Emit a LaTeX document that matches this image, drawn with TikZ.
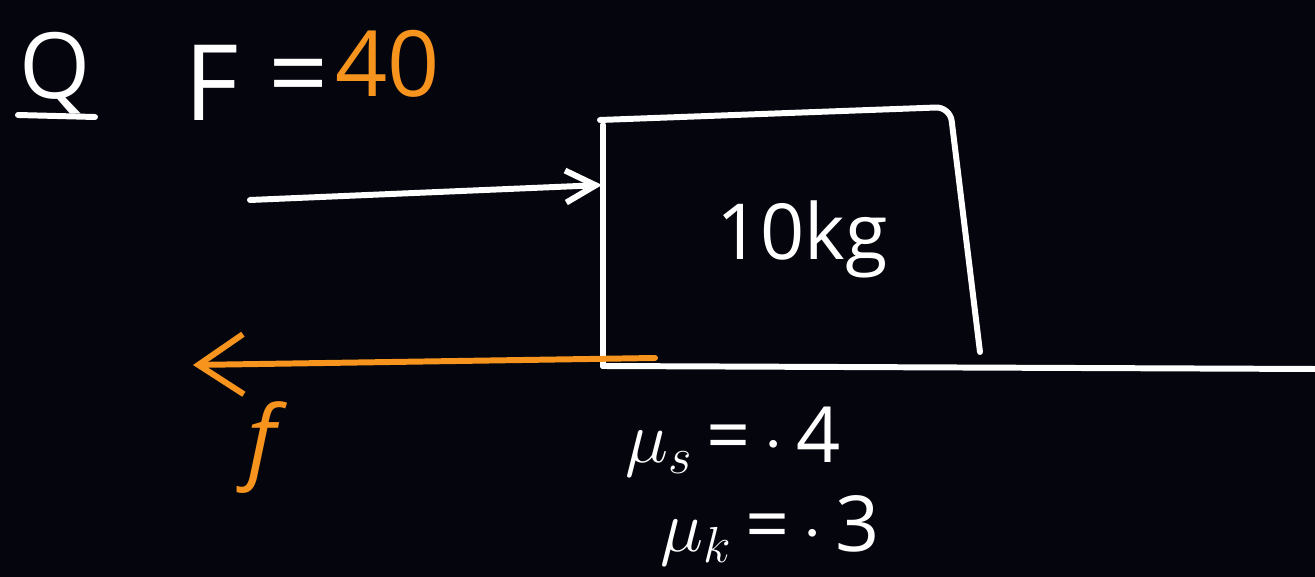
\documentclass[tikz,border=0pt]{standalone}
\usepackage{fontspec}
\setmainfont{Open Sans}
\usepackage{tikz}
\usetikzlibrary{arrows.meta, positioning, calc}
\definecolor{board}{HTML}{05050E}
\definecolor{chalkorange}{HTML}{F7941D}
\tikzset{
  chalk/.style={
    draw=white,
    line width=1.7pt,
    line cap=round,
    line join=round
  },
  forcearrow/.style={
    chalk,
    -{Straight Barb[length=3mm, width=3.2mm, line width=1.7pt]}
  },
  frictionarrow/.style={
    chalk,
    draw=chalkorange,
    -{Straight Barb[length=4.5mm, width=6mm, line width=1.7pt]}
  },
  handtext/.style={
    text=white,
    inner sep=0pt,
    anchor=base
  }
}

\begin{document}
\begin{tikzpicture}

  % BOARD
  \fill[board] (0,0) rectangle (13.15,5.77);
  \useasboundingbox (0,0) rectangle (13.15,5.77);

  % HEADER
  \node (Q_label) [handtext, font=\fontsize{26}{26}\selectfont] at (0.55,4.78) {Q};
  \coordinate (Q_ul_a) at (0.18,4.62);
  \coordinate (Q_ul_b) at (0.95,4.60);
  \draw[chalk] (Q_ul_a) -- (Q_ul_b);
  \node (F_label) [handtext, font=\fontsize{30}{30}\selectfont] at (2.12,4.56) {F};
  \node (F_eq) [handtext, font=\fontsize{30}{30}\selectfont, anchor=base west] at (2.68,4.66) {=};
  \node (F_val) [handtext, text=chalkorange, font=\fontsize{26}{26}\selectfont, anchor=base west] at (3.35,4.80) {40};

  % BLOCK
  \coordinate (B_tl) at (6.00,4.57);
  \coordinate (B_tr) at (9.50,4.70);
  \coordinate (B_br) at (9.80,2.25);
  \coordinate (B_lt) at (6.03,4.52);
  \coordinate (B_lb) at (6.03,2.11);
  \draw[chalk, rounded corners=4pt] (B_tl) -- (B_tr) -- (B_br);
  \draw[chalk] (B_lt) -- (B_lb);
  \node (M_label) [handtext, font=\fontsize{22}{22}\selectfont] at (8.02,3.17) {10kg};

  % GROUND
  \coordinate (G_end) at (13.15,2.08);
  \draw[chalk] (B_lb) -- (G_end);

  % APPLIED FORCE
  \coordinate (A_tail) at (2.50,3.77);
  \coordinate (A_head) at (6.02,3.92);
  \draw[forcearrow] (A_tail) -- (A_head);

  % FRICTION
  \coordinate (R_tail) at (6.55,2.19);
  \coordinate (R_head) at (1.93,2.12);
  \draw[frictionarrow] (R_tail) -- (R_head);
  \node (R_label) [handtext, text=chalkorange, font=\fontsize{26}{26}\selectfont\itshape] at (2.62,1.05) {f};

  % COEFFICIENTS
  \node (mu_s) [handtext, font=\fontsize{22}{22}\selectfont] at (7.33,1.14) {$\mu_s$\,=\,$\cdot$\,4};
  \node (mu_k) [handtext, font=\fontsize{22}{22}\selectfont] at (7.70,0.25) {$\mu_k$\,=\,$\cdot$\,3};

\end{tikzpicture}
\end{document}
